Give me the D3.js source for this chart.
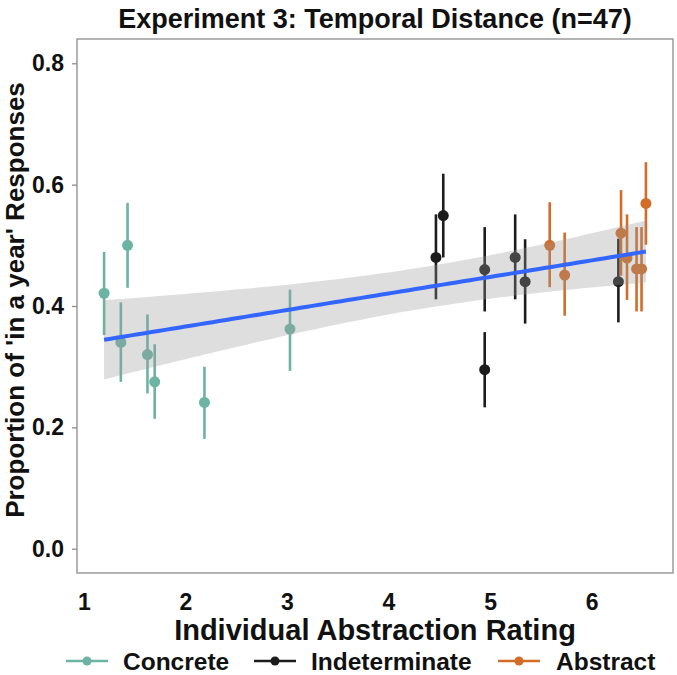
<!DOCTYPE html>
<html>
<head>
<meta charset="utf-8">
<script src="https://cdn.jsdelivr.net/npm/d3@7"></script>
<style>
  html, body { margin: 0; padding: 0; background: #fff; }
  svg { display: block; font-family: "Liberation Sans", Arial, sans-serif; }
</style>
</head>
<body>
<svg id="chart" width="677" height="675"></svg>
<script>
// ---- data ----
const groups = ["Concrete", "Indeterminate", "Abstract"];
const groupColors = ["#6db3a4", "#1c1c1c", "#d26c28"];

const concreteX    = [1.20, 1.431, 1.365, 1.627, 1.698, 2.188, 3.03];
const concreteY    = [0.421, 0.500, 0.340, 0.320, 0.275, 0.241, 0.362];
const concreteLo   = [0.352, 0.430, 0.275, 0.256, 0.214, 0.181, 0.293];
const concreteHi   = [0.489, 0.570, 0.406, 0.386, 0.337, 0.300, 0.427];

const indetX  = [4.467, 4.539, 4.947, 4.947, 5.247, 5.345, 6.263];
const indetY  = [0.480, 0.549, 0.460, 0.295, 0.480, 0.440, 0.440];
const indetLo = [0.411, 0.480, 0.391, 0.233, 0.411, 0.371, 0.373];
const indetHi = [0.551, 0.618, 0.530, 0.357, 0.551, 0.510, 0.511];

const abstractX  = [5.587, 5.734, 6.289, 6.348, 6.442, 6.491, 6.534];
const abstractY  = [0.500, 0.451, 0.520, 0.479, 0.461, 0.461, 0.569];
const abstractLo = [0.431, 0.384, 0.450, 0.410, 0.391, 0.391, 0.501];
const abstractHi = [0.571, 0.521, 0.591, 0.551, 0.530, 0.530, 0.637];

const xTicks = [1, 2, 3, 4, 5, 6];
const yTicks = [0, 0.2, 0.4, 0.6, 0.8];
const yLimits = [0, 0.8];

const titleText = "Experiment 3: Temporal Distance (n=47)";
const xTitle = "Individual Abstraction Rating";
const yTitle = "Proportion of 'in a year' Responses";

// ---- build rows ----
const rows = [];
function addGroup(g, xs, ys, lo, hi) {
  xs.forEach((x, i) => rows.push({ group: g, x, y: ys[i], lo: lo[i], hi: hi[i] }));
}
addGroup("Concrete", concreteX, concreteY, concreteLo, concreteHi);
addGroup("Indeterminate", indetX, indetY, indetLo, indetHi);
addGroup("Abstract", abstractX, abstractY, abstractLo, abstractHi);

// ---- layout ----
const svg = d3.select("#chart");
const P = { left: 77, right: 673, top: 39, bottom: 573 };

const xExt = d3.extent(rows, d => d.x);
const xPad = (xExt[1] - xExt[0]) * 0.05;
const yPad = (yLimits[1] - yLimits[0]) * 0.05;
const x = d3.scaleLinear().domain([xExt[0] - xPad, xExt[1] + xPad]).range([P.left, P.right]);
const y = d3.scaleLinear().domain([yLimits[0] - yPad, yLimits[1] + yPad]).range([P.bottom, P.top]);
const color = d3.scaleOrdinal().domain(groups).range(groupColors);

// ---- linear fit (geom_smooth method = "lm") ----
const n = rows.length;
const mx = d3.mean(rows, d => d.x), my = d3.mean(rows, d => d.y);
const sxx = d3.sum(rows, d => (d.x - mx) ** 2);
const sxy = d3.sum(rows, d => (d.x - mx) * (d.y - my));
const slope = sxy / sxx, intercept = my - slope * mx;
const sse = d3.sum(rows, d => (d.y - (intercept + slope * d.x)) ** 2);
const se = Math.sqrt(sse / (n - 2));
const tCrit = 2.093; // t(0.975, df = 19)
const fit = d3.range(0, 81).map(i => {
  const xv = xExt[0] + (xExt[1] - xExt[0]) * i / 80;
  const yv = intercept + slope * xv;
  const hw = tCrit * se * Math.sqrt(1 / n + (xv - mx) ** 2 / sxx);
  return { x: xv, y: yv, lo: yv - hw, hi: yv + hw };
});

// ---- clip ----
svg.append("defs").append("clipPath").attr("id", "clip")
  .append("rect").attr("x", P.left).attr("y", P.top)
  .attr("width", P.right - P.left).attr("height", P.bottom - P.top);

const plot = svg.append("g").attr("clip-path", "url(#clip)");

// error bars
plot.append("g").selectAll("line").data(rows).join("line")
  .attr("x1", d => x(d.x)).attr("x2", d => x(d.x))
  .attr("y1", d => y(d.lo)).attr("y2", d => y(d.hi))
  .attr("stroke", d => color(d.group)).attr("stroke-width", 2.6);
// points
plot.append("g").selectAll("circle").data(rows).join("circle")
  .attr("cx", d => x(d.x)).attr("cy", d => y(d.y)).attr("r", 5.5)
  .attr("fill", d => color(d.group));

// ribbon & line
plot.append("path").datum(fit)
  .attr("d", d3.area().x(d => x(d.x)).y0(d => y(d.lo)).y1(d => y(d.hi)))
  .attr("fill", "#999999").attr("fill-opacity", 0.32);
plot.append("path").datum(fit)
  .attr("d", d3.line().x(d => x(d.x)).y(d => y(d.y)))
  .attr("fill", "none").attr("stroke", "#3366FF").attr("stroke-width", 4);

// panel border
svg.append("rect").attr("x", P.left).attr("y", P.top)
  .attr("width", P.right - P.left).attr("height", P.bottom - P.top)
  .attr("fill", "none").attr("stroke", "#8c8c8c").attr("stroke-width", 1.3);

const FONT = "Liberation Sans, Arial, sans-serif";

// y axis
const yAxis = svg.append("g").attr("transform", `translate(${P.left},0)`)
  .call(d3.axisLeft(y).tickValues(yTicks).tickFormat(d3.format(".1f")).tickSize(5).tickPadding(8));
yAxis.select(".domain").remove();
yAxis.selectAll(".tick line").attr("stroke", "#8c8c8c").attr("stroke-width", 1.3);
yAxis.selectAll(".tick text").attr("font-size", 23).attr("font-weight", "bold")
  .attr("fill", "#111").attr("font-family", FONT);

// x axis
const xAxis = svg.append("g").attr("transform", `translate(0,${P.bottom})`)
  .call(d3.axisBottom(x).tickValues(xTicks).tickFormat(d3.format("d")).tickSize(0).tickPadding(21));
xAxis.select(".domain").remove();
xAxis.selectAll(".tick text").attr("font-size", 23).attr("font-weight", "bold")
  .attr("fill", "#111").attr("font-family", FONT);

// titles
svg.append("text").attr("x", (P.left + P.right) / 2).attr("y", 28)
  .attr("text-anchor", "middle").attr("font-size", 27).attr("font-weight", "bold")
  .attr("fill", "#111").text(titleText);
svg.append("text").attr("x", (P.left + P.right) / 2).attr("y", 640)
  .attr("text-anchor", "middle").attr("font-size", 29).attr("font-weight", "bold")
  .attr("fill", "#111").text(xTitle);
svg.append("text").attr("transform", `translate(24,${(P.top + P.bottom) / 2 - 6}) rotate(-90)`)
  .attr("text-anchor", "middle").attr("font-size", 26).attr("font-weight", "bold")
  .attr("fill", "#111").text(yTitle);

// legend
const legendPos = [{ kx: 66, tx: 123 }, { kx: 254, tx: 311 }, { kx: 498, tx: 556 }];
const leg = svg.append("g");
groups.forEach((g, i) => {
  const ly = 661;
  const p = legendPos[i];
  leg.append("line").attr("x1", p.kx).attr("x2", p.kx + 42).attr("y1", ly).attr("y2", ly)
    .attr("stroke", color(g)).attr("stroke-width", 2.6);
  leg.append("circle").attr("cx", p.kx + 21).attr("cy", ly).attr("r", 4.5).attr("fill", color(g));
  leg.append("text").attr("x", p.tx).attr("y", ly + 9).attr("font-size", 24.5)
    .attr("font-weight", "bold").attr("fill", "#111").text(g);
});
</script>
</body>
</html>
